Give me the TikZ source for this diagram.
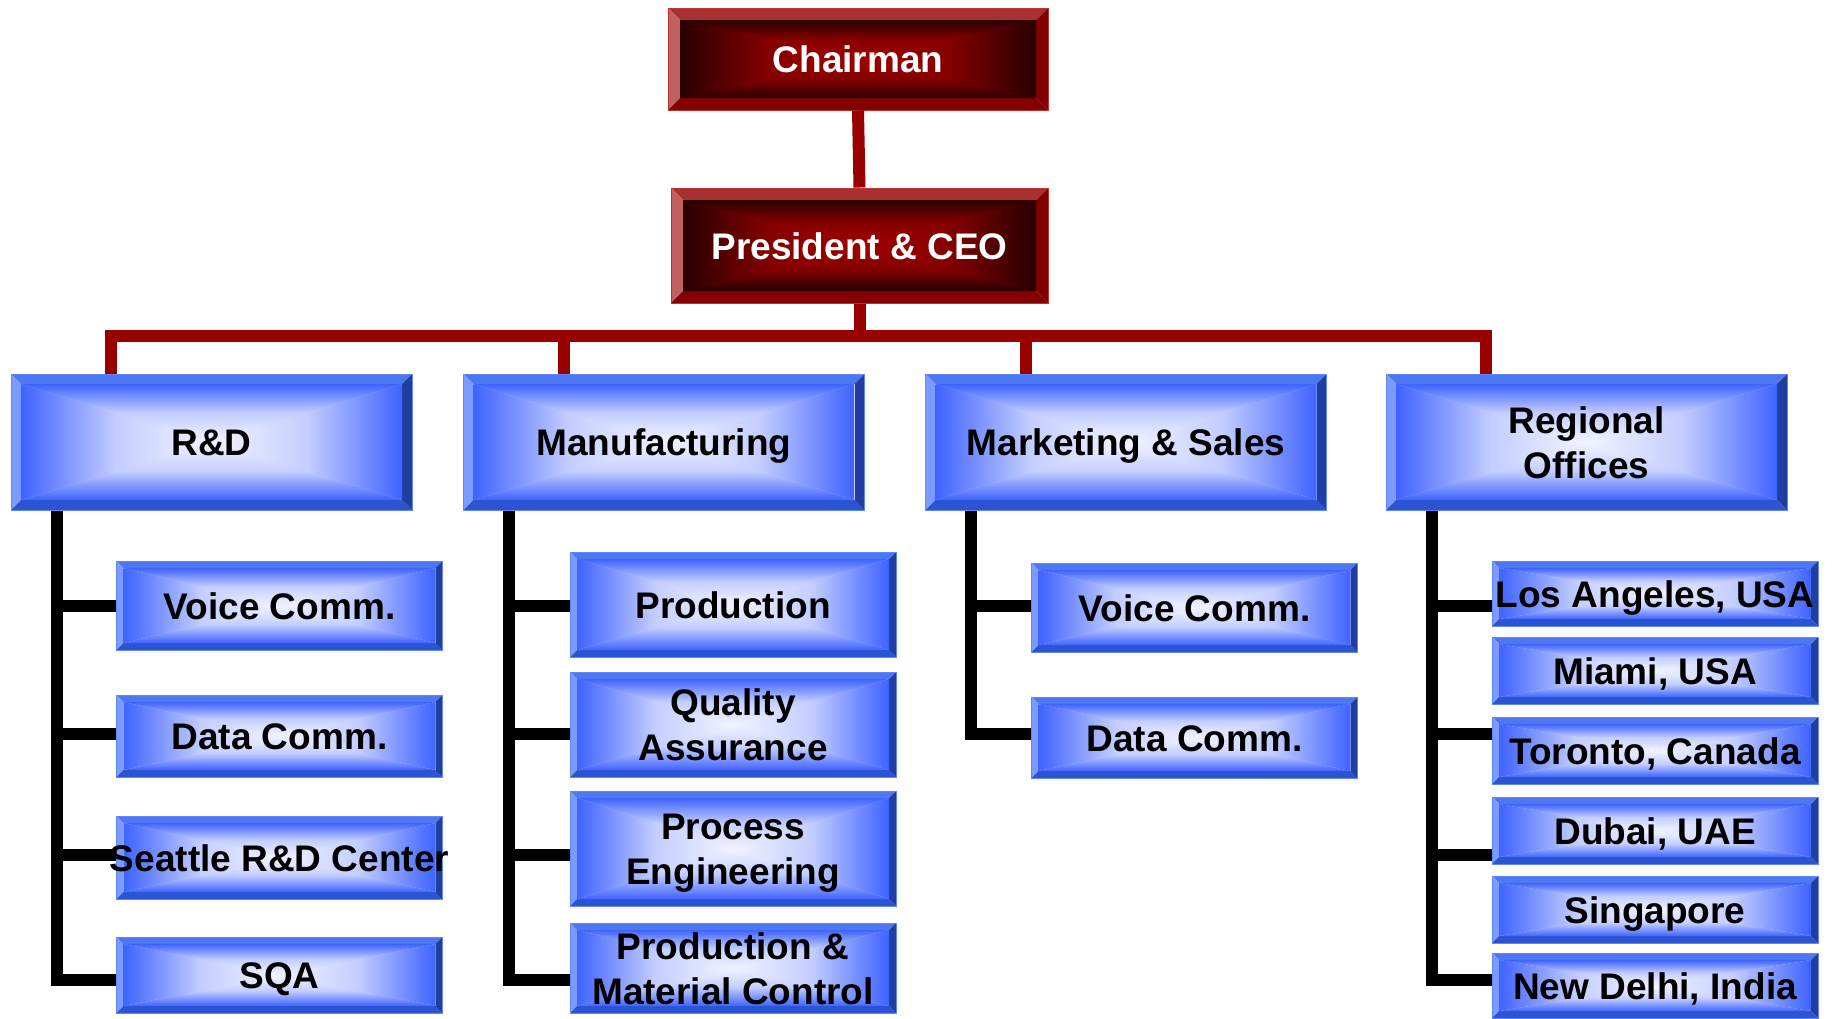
\documentclass[tikz,border=0pt]{standalone}
\usepackage{fontspec}
\setmainfont{Liberation Sans}
\usetikzlibrary{calc}

\definecolor{bandtop}{HTML}{4D78F2}
\definecolor{bandleft}{HTML}{7C9BFF}
\definecolor{bandbot}{HTML}{2B54D2}
\definecolor{bandright}{HTML}{1F3E9E}
\definecolor{blueedge}{HTML}{3F63FF}
\definecolor{bluemid}{HTML}{C4CEFF}
\definecolor{bluecentre}{HTML}{F2F4FF}
\definecolor{blueline}{HTML}{5F86FF}
\definecolor{redtop}{HTML}{A83030}
\definecolor{redleft}{HTML}{C06060}
\definecolor{redbot}{HTML}{850000}
\definecolor{redright}{HTML}{800000}
\definecolor{redegde}{HTML}{280000}
\definecolor{redmid}{HTML}{860000}
\definecolor{redcentre}{HTML}{A00000}
\definecolor{redline}{HTML}{C03030}
\definecolor{linkred}{HTML}{990000}

% bevel frame + rectangular gradient inside a node
\newcommand\bevelfill[8]{%
  \path (path picture bounding box.north west) coordinate (bfa)
        (path picture bounding box.north east) coordinate (bfb)
        (path picture bounding box.south east) coordinate (bfc)
        (path picture bounding box.south west) coordinate (bfd)
        (path picture bounding box.center) coordinate (bfm);
  \path ($(bfa)+(#1,-#1)$) coordinate (bfA) ($(bfb)+(-#1,-#1)$) coordinate (bfB)
        ($(bfc)+(-#1,#1)$) coordinate (bfC) ($(bfd)+(#1,#1)$) coordinate (bfD);
  \fill[#5] (bfa) -- (bfb) -- (bfB) -- (bfA) -- cycle;
  \fill[#6] (bfa) -- (bfA) -- (bfD) -- (bfd) -- cycle;
  \fill[#7] (bfd) -- (bfD) -- (bfC) -- (bfc) -- cycle;
  \fill[#8] (bfb) -- (bfc) -- (bfC) -- (bfB) -- cycle;
  \fill[#3] (bfA) rectangle (bfC);
  \shade[top color=#2, bottom color=#4, middle color=#3] (bfA) -- (bfB) -- (bfm) -- cycle;
  \shade[top color=#4, bottom color=#2, middle color=#3] (bfD) -- (bfC) -- (bfm) -- cycle;
  \shade[left color=#2, right color=#4, middle color=#3] (bfA) -- (bfD) -- (bfm) -- cycle;
  \shade[left color=#4, right color=#2, middle color=#3] (bfB) -- (bfC) -- (bfm) -- cycle;
}

\tikzset{
  box/.style={inner sep=0pt, align=center, font=\fontsize{37}{45}\selectfont\bfseries,
    text height=27pt, text depth=0pt},
  twoline/.style={text height=72pt},
  redbox/.style={box, text=white, draw=redline, line width=1pt,
    path picture={\bevelfill{12pt}{redegde}{redmid}{redcentre}{redtop}{redleft}{redbot}{redright}}},
  bluebox/.style={box, draw=blueline, line width=1pt,
    path picture={\bevelfill{#1}{blueedge}{bluemid}{bluecentre}{bandtop}{bandleft}{bandbot}{bandright}}},
  headbox/.style={bluebox=10pt, minimum width=401pt, minimum height=136pt},
  subbox/.style={bluebox=7pt, minimum width=326pt},
  redlink/.style={line width=12pt, linkred},
  trunk/.style={line width=12pt, black},
}

\begin{document}
\begin{tikzpicture}[x=1pt,y=-1pt]
\useasboundingbox (0,0) rectangle (1832,1018);

\node[redbox, minimum width=380pt, minimum height=102pt] (chair) at (858,59) {Chairman};
\node[redbox, minimum width=377pt, minimum height=115pt] (ceo) at (859.5,245.5) {President \& CEO};

\node[headbox] (rd)  at (211.5,442) {R\&D};
\node[headbox] (mfg) at (664,442) {Manufacturing};
\node[headbox] (mkt) at (1126,442) {Marketing \& Sales};
\node[headbox, twoline] (reg) at (1586.5,442) {Regional\\Offices};

\node[subbox, minimum height=89pt] (rdvoice) at (279.5,605.5) {Voice Comm.};
\node[subbox, minimum height=82pt] (rddata)  at (279.5,736) {Data Comm.};
\node[subbox, minimum height=83pt] (rdsea)   at (279.5,857.5) {\makebox[0pt]{Seattle R\&D Center}};
\node[subbox, minimum height=76pt] (rdsqa)   at (279.5,975) {SQA};

\node[subbox, minimum height=105pt] (prod) at (733,604.5) {Production};
\node[subbox, twoline, minimum height=105pt] (qa)  at (733,724.5) {Quality\\Assurance};
\node[subbox, twoline, minimum height=115pt] (pe)  at (733,848.5) {Process\\Engineering};
\node[subbox, twoline, minimum height=90pt]  (pmc) at (733,968) {Production \&\\Material Control};

\node[subbox, minimum height=89pt] (mkvoice) at (1194.5,607.5) {Voice Comm.};
\node[subbox, minimum height=81pt] (mkdata)  at (1194.5,737.5) {Data Comm.};

\node[subbox, minimum height=65pt] (la)    at (1655,593.5) {Los Angeles, USA};
\node[subbox, minimum height=67pt] (miami) at (1655,670.5) {Miami, USA};
\node[subbox, minimum height=67pt] (tor)   at (1655,750.5) {Toronto, Canada};
\node[subbox, minimum height=67pt] (dubai) at (1655,830.5) {Dubai, UAE};
\node[subbox, minimum height=67pt] (sing)  at (1655,909.5) {Singapore};
\node[subbox, minimum height=65pt] (delhi) at (1655,985.5) {New Delhi, India};

% red links
\coordinate (bus) at (860,336);
\coordinate (rdtap)  at ($(rd.north west)!0.25!(rd.north east)$);
\coordinate (mfgtap) at ($(mfg.north west)!0.25!(mfg.north east)$);
\coordinate (mkttap) at ($(mkt.north west)!0.25!(mkt.north east)$);
\coordinate (regtap) at ($(reg.north west)!0.25!(reg.north east)$);
\draw[redlink] (chair.south) -- (ceo.north);
\draw[redlink] (ceo.south) -- (ceo.south |- bus);
\draw[redlink] (rdtap) -- (rdtap |- bus) -- (regtap |- bus) -- (regtap);
\draw[redlink] (mfgtap |- bus) -- (mfgtap);
\draw[redlink] (mkttap |- bus) -- (mkttap);

% black trunks
\coordinate (lv1) at (0,606);
\coordinate (lv2) at (0,734);
\coordinate (lv3) at (0,855);
\coordinate (lv4) at (0,980);
\coordinate (rdx)  at ($(rd.south west)+(46,0)$);
\coordinate (mfgx) at ($(mfg.south west)+(46,0)$);
\coordinate (mktx) at ($(mkt.south west)+(46,0)$);
\coordinate (regx) at ($(reg.south west)+(46,0)$);

\draw[trunk] (rdx) -- (rdx |- lv4) -- (rdsqa.west |- lv4);
\draw[trunk] (rdx |- lv1) -- (rdvoice.west |- lv1);
\draw[trunk] (rdx |- lv2) -- (rddata.west |- lv2);
\draw[trunk] (rdx |- lv3) -- (rdsea.west |- lv3);

\draw[trunk] (mfgx) -- (mfgx |- lv4) -- (pmc.west |- lv4);
\draw[trunk] (mfgx |- lv1) -- (prod.west |- lv1);
\draw[trunk] (mfgx |- lv2) -- (qa.west |- lv2);
\draw[trunk] (mfgx |- lv3) -- (pe.west |- lv3);

\draw[trunk] (mktx) -- (mktx |- lv2) -- (mkdata.west |- lv2);
\draw[trunk] (mktx |- lv1) -- (mkvoice.west |- lv1);

\draw[trunk] (regx) -- (regx |- lv4) -- (delhi.west |- lv4);
\draw[trunk] (regx |- lv1) -- (la.west |- lv1);
\draw[trunk] (regx |- lv2) -- (tor.west |- lv2);
\draw[trunk] (regx |- lv3) -- (dubai.west |- lv3);

\end{tikzpicture}
\end{document}
